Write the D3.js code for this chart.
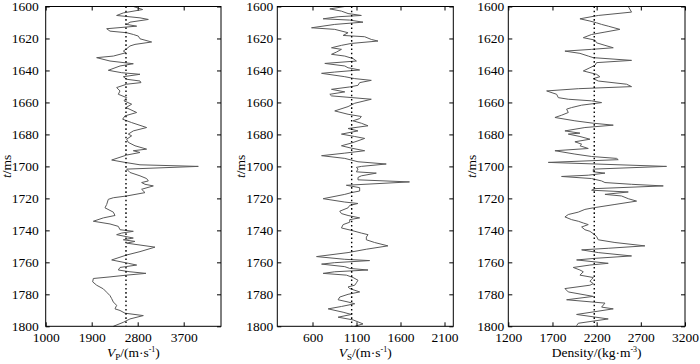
<!DOCTYPE html>
<html><head><meta charset="utf-8">
<script src="https://cdn.jsdelivr.net/npm/d3@7"></script>
<style>
body{margin:0;background:#fff;}
svg{display:block;}
svg text{font-family:"Liberation Serif","Times New Roman",Times,serif !important;}
</style></head>
<body>
<svg id="chart" width="700" height="364"></svg>
<script>
// ---------- data ----------
const timeTicks = [1600,1620,1640,1660,1680,1700,1720,1740,1760,1780,1800];
const vpTicks = [1000,1900,2800,3700];
const vsTicks = [600,1100,1600,2100];
const rhoTicks = [1200,1700,2200,2700,3200];

const vpTime = [1600,1601.9,1604.0,1605.6,1607.1,1608.1,1609.8,1611.2,1612.3,1613.9,1615.4,1616.4,1617.5,1618.5,1620.2,1622.2,1623.7,1624.7,1626.4,1627.9,1628.9,1631.0,1632.0,1634.1,1635.8,1637.2,1639.9,1641.4,1642.4,1643.9,1645.5,1646.6,1647.6,1648.6,1650.7,1652.8,1654.9,1657.0,1659.0,1661.1,1663.2,1666.3,1668.4,1670.5,1672.6,1675.7,1677.8,1679.8,1680.9,1683.0,1685.0,1687.1,1689.2,1690.2,1691.3,1692.9,1696.0,1697.5,1699.0,1700.0,
1701.7,1703.8,1705.9,1707.6,1709.1,1710.1,1711.2,1712.2,1714.3,1716.4,1718.5,1719.6,1720.6,1723.8,1725.9,1728.6,1730.7,1732.2,1734.3,1736.0,1737.5,1739.6,1740.6,1741.7,1742.7,1744.8,1745.9,1746.9,1748.0,1750.5,1753.3,1755.4,1758.5,1760.6,1761.7,1763.2,1764.8,1765.9,1766.9,1768.0,1769.1,1770.1,1772.2,1774.3,1776.6,1778.7,1780.8,1782.7,1784.8,1786.9,1789.1,1790.1,1791.8,1793.3,1795.4,1797.5,1800];
const vpValues = [2714,2897,2519,2388,2845,3008,2649,2584,2780,2193,2258,2584,2714,2812,2845,3073,2747,2649,2584,2519,2571,2323,1997,2258,2714,2454,2225,2486,2845,2519,2584,2845,2864,2584,2388,2454,2421,2584,2532,2682,2571,2780,2551,2506,2682,2975,2714,2617,2682,2584,2617,2747,2975,2714,2845,2584,2291,2551,2845,3986,
2584,2649,2845,2975,3008,2877,2943,3106,2877,2943,2584,2323,2225,2193,2160,2323,2356,2128,1932,2258,2421,2454,2714,2486,2388,2714,2519,2747,2584,3138,2845,2584,2291,2617,2780,2454,2421,2649,2962,2584,2258,1932,1919,1997,2128,2193,2258,2291,2323,2388,2356,2454,2551,2910,2649,2519,2323];
const vpMean = [2571];

const vsTime = [1600.0,1601.5,1602.9,1604.4,1605.6,1606.4,1607.7,1608.5,1609.8,1611.2,1613.3,1614.3,1616.4,1618.1,1618.9,1620.6,1621.6,1623.1,1624.3,1625.8,1626.8,1628.5,1629.9,1631.0,1632.6,1634.1,1635.6,1637.2,1638.3,1639.7,1641.0,1641.8,1643.9,1645.1,1646.2,1647.6,1649.3,1650.3,1651.8,1653.4,1654.9,1655.9,1658.0,1660.5,1662.6,1665.3,1667.4,1668.8,1670.1,1671.5,1673.0,1674.6,1676.3,1677.8,1679.8,1681.3,1682.5,1684.0,1685.4,1687.1,1688.6,1690.2,1691.7,1693.3,1695.0,1697.1,1698.5,
1700.0,1700.6,1701.7,1703.4,1704.2,1705.9,1706.9,1708.4,1709.7,1711.8,1713.3,1715.4,1716.4,1717.5,1720.2,1722.3,1723.2,1724.4,1725.9,1728.0,1729.5,1730.7,1732.2,1733.3,1734.9,1736.4,1738.5,1740.0,1741.7,1742.7,1744.2,1745.9,1747.6,1749.7,1751.8,1753.9,1756.4,1758.1,1758.9,1760.2,1761.1,1762.7,1763.8,1764.8,1765.9,1766.9,1768.0,1769.5,1771.2,1772.8,1774.3,1775.4,1776.4,1778.5,1780.0,1781.7,1783.4,1784.8,1785.9,1787.6,1789.1,1791.2,1792.6,1794.3,1796.0,1798.5,1800.0];
const vsValues = [967,797,929,1004,1155,891,721,1023,1174,853,589,853,1004,948,1193,1268,1344,1042,929,816,929,872,816,967,1061,1099,740,967,1004,1136,853,703,967,1080,1268,1136,1117,1023,816,967,797,816,1268,1080,1004,853,1004,1155,1136,1061,1155,1231,1004,1117,929,1080,1193,1117,1042,929,1042,1193,967,703,967,1117,1438,
1155,1099,1117,1099,1325,1155,1117,1117,1702,985,1136,1136,1042,967,721,967,1117,1023,1004,910,929,1004,1136,1023,1023,948,929,1042,1155,1231,1212,1212,1306,1457,1212,1004,646,967,1249,853,703,967,1023,1231,853,721,985,1061,1117,1099,1080,1004,1023,1136,1004,910,891,1004,1080,929,778,948,1042,891,1061,1174,1080];
const vsMean = [1045];

const rhoTime = [1600.0,1603.5,1605.6,1607.7,1609.1,1610.2,1611.2,1612.3,1614.3,1616.0,1617.5,1619.5,1621.0,1622.7,1624.3,1625.8,1626.8,1627.9,1629.3,1631.0,1632.0,1633.7,1635.1,1636.8,1638.3,1640.3,1642.4,1643.9,1645.1,1646.6,1648.6,1650.1,1651.4,1652.8,1654.9,1657.0,1658.0,1659.0,1660.1,1661.7,1663.2,1664.2,1666.3,1668.0,1669.4,1671.5,1673.0,1674.2,1675.7,1677.8,1679.2,1679.8,1681.3,1683.0,1684.6,1686.1,1687.1,1688.8,1690.2,1692.3,1693.8,1695.0,1695.8,1697.5,1700.0,
1701.7,1703.4,1704.2,1705.5,1706.3,1707.6,1709.1,1710.1,1711.2,1712.2,1713.9,1714.9,1716.0,1717.5,1718.5,1720.2,1721.7,1723.8,1725.9,1726.9,1728.6,1730.1,1731.6,1733.3,1734.3,1735.4,1736.4,1737.9,1739.6,1740.6,1742.1,1743.8,1745.9,1747.6,1749.7,1751.2,1752.2,1753.9,1756.0,1757.5,1758.5,1760.6,1761.7,1763.2,1764.8,1765.9,1768.0,1769.5,1770.7,1771.8,1773.3,1774.3,1776.4,1778.5,1781.3,1783.4,1785.5,1788.0,1789.1,1792.6,1795.4,1798.1,1799.6];
const rhoValues = [2558,2595,2218,2011,2124,2199,2256,2331,2463,2294,2143,2049,2181,2199,2294,2388,2143,1841,2011,2105,2162,2595,2199,2181,2124,2049,2199,2237,2162,2218,2539,2595,1992,1634,1747,1766,1879,2143,2256,2030,1917,1860,1879,1803,1728,1954,2162,2388,2067,1841,2011,1879,2011,2124,1954,2030,2011,2105,1728,1954,2143,2426,2444,1653,2991,
2162,2162,2294,2105,1803,2143,2256,2294,2595,2954,2181,2143,2558,2294,2482,2558,2652,2407,2162,2067,1992,1879,1841,1917,1992,2049,2105,2030,2067,2124,2162,2199,2218,2407,2746,2331,2030,2218,2595,2181,1973,2331,2124,1935,2011,2049,2011,2162,2143,2124,2162,2124,1841,1879,2162,1860,2294,2256,2388,1973,2331,1992,1973];
const rhoMean = [2173];

// ---------- layout ----------
const svg = d3.select("#chart");
const yTop = 6.5, yBot = 326.3;
const y = d3.scaleLinear().domain([1600,1800]).range([yTop,yBot]);

const panels = [
  {x0:45.7, x1:221, domain:[1000,4430], ticks:vpTicks, time:vpTime, vals:vpValues, mean:vpMean[0], lpad:7, title:"P", kind:"v"},
  {x0:277.3, x1:453.3, domain:[200,2200], ticks:vsTicks, time:vsTime, vals:vsValues, mean:vsMean[0], lpad:4, title:"S", kind:"v"},
  {x0:508.3, x1:685, domain:[1200,3200], ticks:rhoTicks, time:rhoTime, vals:rhoValues, mean:rhoMean[0], lpad:4, kind:"rho"}
];

const fs = 13.5;

panels.forEach((p,i)=>{
  const x = d3.scaleLinear().domain(p.domain).range([p.x0,p.x1]);
  const g = svg.append("g");

  const pts = p.time.map((t,k)=>[t,p.vals[k]]);
  g.append("path")
    .attr("d", d3.line().x(d=>x(d[1])).y(d=>y(d[0]))(pts))
    .attr("fill","none").attr("stroke","#5a5a5a").attr("stroke-width",1);

  g.append("line")
    .attr("x1",x(p.mean)).attr("x2",x(p.mean))
    .attr("y1",yTop).attr("y2",yBot)
    .attr("stroke","#000").attr("stroke-width",1.4)
    .attr("stroke-dasharray","1.6,2.6");

  const styleAxis = sel => {
    sel.select(".domain").remove();
    sel.selectAll(".tick line").attr("stroke","#000").attr("stroke-width",1);
    sel.selectAll("text").attr("font-size",fs).attr("fill","#000").attr("font-family",null);
  };
  g.append("g").attr("transform",`translate(0,${yBot})`)
    .call(d3.axisBottom(x).tickValues(p.ticks).tickSize(-4).tickPadding(6).tickFormat(d3.format("d")))
    .call(styleAxis);
  g.append("g").attr("transform",`translate(0,${yTop})`)
    .call(d3.axisTop(x).tickValues(p.ticks).tickSize(-4).tickFormat(""))
    .call(styleAxis);
  g.append("g").attr("transform",`translate(${p.x0},0)`)
    .call(d3.axisLeft(y).tickValues(timeTicks).tickSize(-4).tickPadding(p.lpad).tickFormat(d3.format("d")))
    .call(styleAxis);
  g.append("g").attr("transform",`translate(${p.x1},0)`)
    .call(d3.axisRight(y).tickValues(timeTicks).tickSize(-4).tickFormat(""))
    .call(styleAxis);

  g.append("rect").attr("x",p.x0).attr("y",yTop)
    .attr("width",p.x1-p.x0).attr("height",yBot-yTop)
    .attr("fill","none").attr("stroke","#000").attr("stroke-width",1);

  const yt = g.append("text")
    .attr("transform",`translate(${p.x0-(i===0?34.5:32)},${(yTop+yBot)/2}) rotate(-90)`)
    .attr("text-anchor","middle").attr("font-size",fs);
  yt.append("tspan").attr("font-style","italic").text("t");
  yt.append("tspan").text("/ms");

  const cx = (p.x0+p.x1)/2;
  const xt = g.append("text").attr("x",cx).attr("y",357)
    .attr("text-anchor","middle").attr("font-size",fs);
  if(p.kind==="v"){
    xt.append("tspan").attr("font-style","italic").text("V");
    xt.append("tspan").attr("font-size",9).attr("dy",2.5).text(p.title);
    xt.append("tspan").attr("dy",-2.5).text("/(m·s");
    xt.append("tspan").attr("font-size",8).attr("dy",-5).text("-1");
    xt.append("tspan").attr("dy",5).text(")");
  } else {
    xt.append("tspan").text("Density/(kg·m");
    xt.append("tspan").attr("font-size",8).attr("dy",-5).text("-3");
    xt.append("tspan").attr("dy",5).text(")");
  }
});
</script>
</body></html>
